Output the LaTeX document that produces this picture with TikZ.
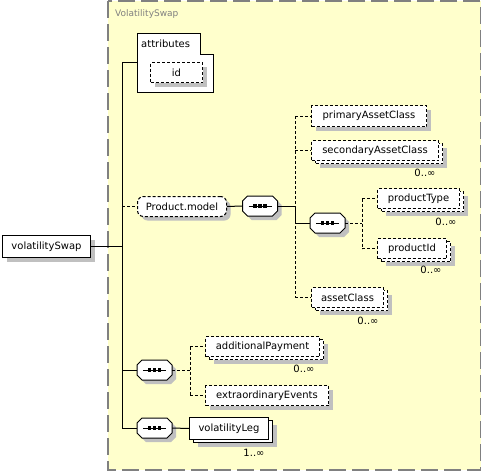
\documentclass[tikz,border=0pt]{standalone}
\usepackage{fontspec}
\setmainfont{DejaVu Sans}
\usetikzlibrary{positioning,shadows}

\definecolor{groupfill}{HTML}{FFFFCC}
\definecolor{groupline}{HTML}{808080}
\definecolor{shadowgray}{HTML}{C0C0C0}

\tikzset{
  box/.style={rectangle, draw=black, fill=white, line width=1pt, inner sep=0pt,
    anchor=north west, font=\fontsize{10}{12}\selectfont},
  optline/.style={dash pattern=on 3pt off 2pt},
  single/.style={general shadow={shadow xshift=4pt, shadow yshift=-4pt, fill=shadowgray}},
  multi/.style={general shadow={shadow xshift=8pt, shadow yshift=-7pt, fill=shadowgray},
    general shadow={shadow xshift=4pt, shadow yshift=-3pt, fill=white, draw=black,
      line width=1pt, #1}},
  multi/.default={},
  seqbox/.style={rectangle, inner sep=0pt, minimum width=35pt, minimum height=20pt},
  cardlabel/.style={inner sep=0pt, font=\fontsize{10}{12}\selectfont},
}

% sequence symbol drawn round a named node
\newcommand{\seqshape}[1]{%
  \begin{scope}[shift={(#1.center)}]
    \fill[shadowgray, shift={(4,4)}] (-17.5,-5) -- (-12.5,-10) -- (12.5,-10) -- (17.5,-5) -- (17.5,5) -- (12.5,10) -- (-12.5,10) -- (-17.5,5) -- cycle;
    \draw[line width=1pt, fill=white] (-17.5,-5) -- (-12.5,-10) -- (12.5,-10) -- (17.5,-5) -- (17.5,5) -- (12.5,10) -- (-12.5,10) -- (-17.5,5) -- cycle;
    \draw[line width=1pt] (-11.5,0) -- (11.5,0);
    \foreach \d in {-5,0,5}
      \fill (\d-1.6,-1.6) rectangle (\d+1.6,1.6);
  \end{scope}
}

\begin{document}
\begin{tikzpicture}[x=1pt, y=-1pt]
\useasboundingbox (0,0) rectangle (482,471);

% Group
\draw[groupline, fill=groupfill, line width=1.5pt, dash pattern=on 17pt off 6pt]
  (108,1) rectangle (480.5,470);
\node[anchor=west, inner sep=0pt, text=groupline, font=\fontsize{9}{11}\selectfont]
  (title) at (115,14) {VolatilitySwap};

% Root element
\node[box, single, minimum width=88pt, minimum height=22pt] (vswap) at (2,235) {volatilitySwap};

% Attributes
\draw[line width=1pt, fill=white] (137,33) -- (200,33) -- (200,54) -- (213,54) -- (213,92) -- (137,92) -- cycle;
\node[anchor=west, inner sep=0pt, font=\fontsize{10}{12}\selectfont] (attrlabel) at (141,44) {attributes};
\node[box, single, optline, minimum width=52pt, minimum height=20pt] (attrid) at (150,62) {id};
\coordinate (attrin) at (137,62);

% Product.model group
\node[box, single, optline, rounded corners=6pt, minimum width=89pt, minimum height=20pt] (prodmodel) at (137,196) {Product.model};
\node[seqbox] (seqmodel) at (260,206) {};
\seqshape{seqmodel}

\node[box, single, optline, minimum width=115pt, minimum height=21pt] (primary) at (311,105) {primaryAssetClass};
\node[box, multi=optline, optline, minimum width=127pt, minimum height=20pt] (secondary) at (311,140) {secondaryAssetClass};
\node[cardlabel] (secondarycard) at (425,173) {0..∞};

\node[seqbox] (seqprod) at (327.5,223) {};
\seqshape{seqprod}
\node[box, multi=optline, optline, minimum width=82pt, minimum height=20pt] (prodtype) at (377,188) {productType};
\node[cardlabel] (prodtypecard) at (446,222) {0..∞};
\node[box, multi=optline, optline, minimum width=69pt, minimum height=20pt] (prodid) at (377,238) {productId};
\node[cardlabel] (prodidcard) at (431,270) {0..∞};

\node[box, multi=optline, optline, minimum width=72pt, minimum height=20pt] (assetcls) at (311,287) {assetClass};
\node[cardlabel] (assetclscard) at (368,321) {0..∞};

% Payments group
\node[seqbox] (seqextra) at (154.5,370) {};
\seqshape{seqextra}
\node[box, multi=optline, optline, minimum width=114pt, minimum height=20pt] (addpay) at (205,336) {additionalPayment};
\node[cardlabel] (addpaycard) at (304,369) {0..∞};
\node[box, single, optline, minimum width=123pt, minimum height=20pt] (extraev) at (205,385) {extraordinaryEvents};

% Legs
\node[seqbox] (seqleg) at (154.5,428) {};
\seqshape{seqleg}
\node[box, multi, minimum width=79pt, minimum height=22pt] (volleg) at (189,417) {volatilityLeg};
\node[cardlabel] (vollegcard) at (254,453) {1..∞};

% Connectors
\coordinate (trunk) at (122,62);
\coordinate (choicebar) at (295,0);
\coordinate (prodbar) at (362,0);
\coordinate (extrabar) at (190,0);

\draw[line width=1pt] (vswap.east) -- (vswap.east -| trunk);
\draw[line width=1pt] (trunk) -- (trunk |- seqleg.west);
\draw[line width=1pt] (trunk) -- (attrin);
\draw[line width=1pt, optline] (trunk |- prodmodel.west) -- (prodmodel.west);
\draw[line width=1pt] (trunk |- seqextra.west) -- (seqextra.west);
\draw[line width=1pt] (trunk |- seqleg.west) -- (seqleg.west);

\draw[line width=1pt] (prodmodel.east) -- (seqmodel.west);
\draw[line width=1pt] (seqmodel.east) -- (seqmodel.east -| choicebar);
\draw[line width=1pt, optline] (choicebar |- primary.west) -- (choicebar |- assetcls.west);
\draw[line width=1pt] (choicebar |- seqmodel.east) -- (choicebar |- seqprod.west);
\draw[line width=1pt, optline] (choicebar |- primary.west) -- (primary.west);
\draw[line width=1pt, optline] (choicebar |- secondary.west) -- (secondary.west);
\draw[line width=1pt] (choicebar |- seqprod.west) -- (seqprod.west);
\draw[line width=1pt, optline] (choicebar |- assetcls.west) -- (assetcls.west);

\draw[line width=1pt, optline] (seqprod.east) -- (seqprod.east -| prodbar);
\draw[line width=1pt, optline] (prodbar |- prodtype.west) -- (prodbar |- prodid.west);
\draw[line width=1pt, optline] (prodbar |- prodtype.west) -- (prodtype.west);
\draw[line width=1pt, optline] (prodbar |- prodid.west) -- (prodid.west);

\draw[line width=1pt, optline] (seqextra.east) -- (seqextra.east -| extrabar);
\draw[line width=1pt, optline] (extrabar |- addpay.west) -- (extrabar |- extraev.west);
\draw[line width=1pt, optline] (extrabar |- addpay.west) -- (addpay.west);
\draw[line width=1pt, optline] (extrabar |- extraev.west) -- (extraev.west);

\draw[line width=1pt] (seqleg.east) -- (volleg.west);

\end{tikzpicture}
\end{document}
